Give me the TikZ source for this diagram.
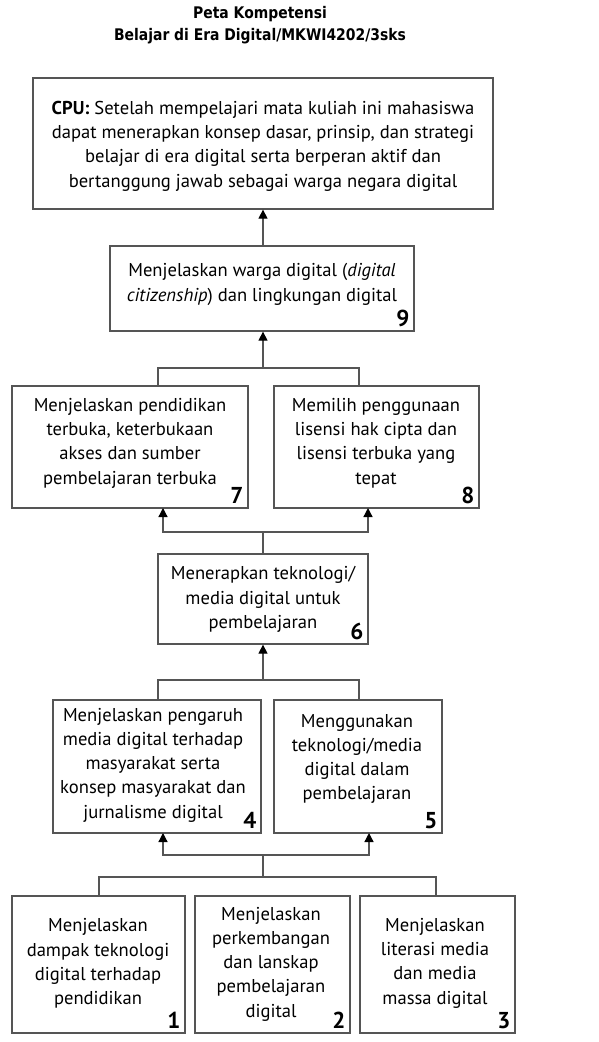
\documentclass[tikz,border=0pt]{standalone}
\usepackage{fontspec}
\setmainfont{PT Sans}
\newfontfamily\titlefont{DejaVu Sans}
\usetikzlibrary{arrows.meta,calc}
\definecolor{boxgray}{HTML}{555555}
\begin{document}
\begin{tikzpicture}[x=1pt,y=-1pt,
  box/.style={draw=boxgray,line width=1.3pt,inner sep=0pt},
  txt/.style={align=center,inner sep=0pt,font=\fontsize{18.6}{24.3}\selectfont},
  num/.style={inner sep=0pt,anchor=south east,font=\fontsize{23}{24}\selectfont\bfseries},
  ttl/.style={align=center,inner sep=0pt,font=\titlefont\bfseries\fontsize{16}{22}\selectfont},
  conn/.style={draw=boxgray,line width=1.3pt},
  arr/.style={conn,arrows={-{Triangle[length=9pt,width=9pt,fill=black,color=black]}}}
]
\useasboundingbox (0,0) rectangle (598,1042);
% title
\node[ttl] (title) at (260,25) {\scalebox{0.87}[1]{Peta Kompetensi}\\\scalebox{0.87}[1]{Belajar di Era Digital/MKWI4202/3sks}};
% boxes
\node[box,minimum width=460pt,minimum height=131pt] (CPU) at (263,143.5) {};
\node[box,minimum width=304pt,minimum height=85pt] (B9) at (262,288.5) {};
\node[box,minimum width=236pt,minimum height=122pt] (B7) at (130,447) {};
\node[box,minimum width=205pt,minimum height=122pt] (B8) at (376.5,447) {};
\node[box,minimum width=210pt,minimum height=90pt] (B6) at (263,599) {};
\node[box,minimum width=208pt,minimum height=133pt] (B4) at (157,766.5) {};
\node[box,minimum width=168pt,minimum height=133pt] (B5) at (358,766.5) {};
\node[box,minimum width=173pt,minimum height=137pt] (B1) at (98.5,964.5) {};
\node[box,minimum width=155pt,minimum height=137pt] (B2) at (272.5,964.5) {};
\node[box,minimum width=155pt,minimum height=137pt] (B3) at (437.5,964.5) {};
% texts
\node[txt] (tCPU) at (263,146) {\textbf{CPU:} Setelah mempelajari mata kuliah ini mahasiswa\\dapat menerapkan konsep dasar, prinsip, dan strategi\\belajar di era digital serta berperan aktif dan\\bertanggung jawab sebagai warga negara digital};
\node[txt] (t9) at (262,284.5) {Menjelaskan warga digital (\textit{digital}\\\textit{citizenship}) dan lingkungan digital};
\node[txt] (t7) at (130,443) {Menjelaskan pendidikan\\terbuka, keterbukaan\\akses dan sumber\\pembelajaran terbuka};
\node[txt] (t8) at (376,443) {Memilih penggunaan\\lisensi hak cipta dan\\lisensi terbuka yang\\tepat};
\node[txt] (t6) at (263,599.5) {Menerapkan teknologi/\\media digital untuk\\pembelajaran};
\node[txt] (t4) at (153,765) {Menjelaskan pengaruh\\media digital terhadap\\masyarakat serta\\konsep masyarakat dan\\jurnalisme digital};
\node[txt] (t5) at (357,759) {Menggunakan\\teknologi/media\\digital dalam\\pembelajaran};
\node[txt] (t1) at (98,963.5) {Menjelaskan\\dampak teknologi\\digital terhadap\\pendidikan};
\node[txt] (t2) at (271,964) {Menjelaskan\\perkembangan\\dan lanskap\\pembelajaran\\digital};
\node[txt] (t3) at (435,963) {Menjelaskan\\literasi media\\dan media\\massa digital};
% numbers
\node[num] (n9) at ($(B9.south east)+(-5,-5)$) {9};
\node[num] (n7) at ($(B7.south east)+(-5,-5)$) {7};
\node[num] (n8) at ($(B8.south east)+(-5,-5)$) {8};
\node[num] (n6) at ($(B6.south east)+(-5,-5)$) {6};
\node[num] (n4) at ($(B4.south east)+(-5,-5)$) {4};
\node[num] (n5) at ($(B5.south east)+(-5,-5)$) {5};
\node[num] (n1) at ($(B1.south east)+(-5,-5)$) {1};
\node[num] (n2) at ($(B2.south east)+(-5,-5)$) {2};
\node[num] (n3) at ($(B3.south east)+(-5,-5)$) {3};
% connector points
\coordinate (j78) at (263,368);
\coordinate (a7) at (158,386);
\coordinate (a8) at (359,386);
\coordinate (j6) at (263,532);
\coordinate (b7) at (163,508);
\coordinate (b8) at (368,508);
\coordinate (j45) at (263,680);
\coordinate (a4) at (158,700);
\coordinate (a5) at (359,700);
\coordinate (j123) at (263,855);
\coordinate (k123) at (263,877);
\coordinate (b4) at (163,833);
\coordinate (b5) at (369,833);
\coordinate (a1) at (99,896);
\coordinate (a3) at (436,896);
% connectors
\draw[arr] (B9.north -| CPU.south) -- (CPU.south);
\draw[conn] (a7) |- (j78) -| (a8);
\draw[arr] (j78) -- (j78 |- B9.south);
\draw[conn] (B6.north) -- (j6);
\draw[arr] (j6) -| (b7);
\draw[arr] (j6) -| (b8);
\draw[conn] (a4) |- (j45) -| (a5);
\draw[arr] (j45) -- (B6.south);
\draw[conn] (a1) |- (k123) -| (a3);
\draw[conn] (k123) -- (j123);
\draw[arr] (j123) -| (b4);
\draw[arr] (j123) -| (b5);
\end{tikzpicture}
\end{document}
